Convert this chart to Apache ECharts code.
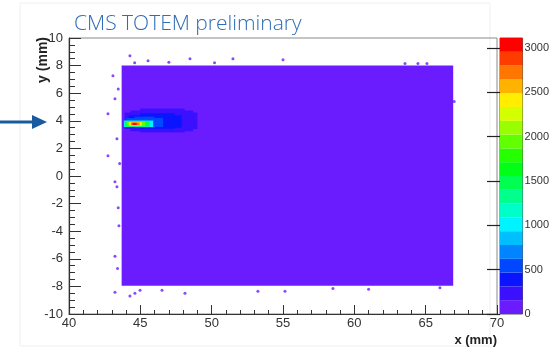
<!DOCTYPE html>
<html><head><meta charset="utf-8">
<script src="https://cdn.jsdelivr.net/npm/echarts@6/dist/echarts.min.js"></script>
<style>html,body{margin:0;padding:0;background:#fff}#c{width:552px;height:349px}</style>
</head><body><div id="c"></div>
<script>
const titleText = 'CMS TOTEM preliminary';
const xLabel = 'x (mm)';
const yLabel = 'y (mm)';
const xRange = [40, 70];
const yRange = [-10, 10];
const zMax = 3112;
const colorBandEdges = [0,156,311,467,622,778,934,1089,1245,1400,1556,1712,1867,2023,2178,2334,2490,2645,2801,2956,3112];
const palette = ['#6a1cff','#3a10ff','#0a14ff','#0048ff','#0084ff','#00bfff','#00f4ff','#00ffc8','#00ff8c','#00ff51',
                 '#00ff15','#26ff00','#62ff00','#99ff00','#d4ff00','#ffee00','#ffb300','#ff7700','#ff3c00','#ff0000'];
const colorbarTicks = [0,500,1000,1500,2000,2500,3000];
// regions of the 2D histogram: [x0, x1, y0, y1, counts]
const acceptanceRegion = [[43.69, 66.93, -7.95, 8.0, 60]];
const beamHalo = [
  [43.9, 49.0, 3.4, 4.6, 200],
  [44.3, 48.7, 3.25, 4.75, 200],
  [45.0, 48.1, 3.15, 4.9, 200],
  [44.2, 47.9, 3.5, 4.4, 380],
  [45.0, 47.4, 3.42, 4.55, 380],
  [44.0, 46.6, 3.55, 4.2, 520],
  [44.6, 46.0, 3.5, 4.3, 520]
];
const beamCore = [
  [43.85, 45.9, 3.55, 4.02, 1000],
  [43.9, 45.65, 3.58, 3.99, 1500],
  [44.05, 45.35, 3.62, 3.95, 1950],
  [44.2, 45.1, 3.65, 3.91, 2400],
  [44.35, 44.95, 3.68, 3.88, 2800],
  [44.45, 44.75, 3.7, 3.85, 3050]
];
const edgeHitsX = [42.73,42.73,43.22,43.36,43.08,43.22,43.36,43.22,43.22,44.27,44.62,44.98,46.52,48.13,53.24,55.14,44.27,45.54,48.48,51.49,55.0,67.0,63.55,64.46,65.09,43.45,43.5,43.4,43.55,43.45,44.6,47.0,50.2,58.5,61.0,66.0];
const edgeHitsY = [4.51,1.47,5.60,2.70,7.26,-0.41,-0.78,-5.82,-8.43,-8.70,-8.49,-8.27,-8.27,-8.49,-8.35,-8.35,8.72,8.36,8.50,8.50,8.43,5.4,8.15,8.15,8.15,-2.3,-3.6,-6.7,0.9,6.3,8.2,8.25,8.2,-8.15,-8.2,-8.1];

const histCells = acceptanceRegion.concat(beamHalo, beamCore);
const colorbarCells = colorBandEdges.slice(0, -1).map((lo, i) => [0, 1, lo, colorBandEdges[i + 1], (lo + colorBandEdges[i + 1]) / 2]);
const pieces = palette.map((c, i) => ({ gte: colorBandEdges[i], lt: colorBandEdges[i + 1], color: c }));
const edgeHits = edgeHitsX.map((x, i) => [x, edgeHitsY[i]]);

function rectItem(params, api) {
  const a = api.coord([api.value(0), api.value(3)]);
  const b = api.coord([api.value(1), api.value(2)]);
  return { type: 'rect', shape: { x: a[0], y: a[1], width: b[0] - a[0], height: b[1] - a[1] },
           style: { fill: api.visual('color') } };
}

const font = 'Liberation Sans, Arial, sans-serif';
const chart = echarts.init(document.getElementById('c'));
chart.setOption({
  backgroundColor: '#fff',
  animation: false,
  title: { text: titleText, left: 74, top: 14, padding: 0,
           textStyle: { fontFamily: 'Open Sans', fontWeight: 300, fontSize: 21, color: '#2f6db5' } },
  grid: [
    { left: 69, right: 55, top: 38, bottom: 35, show: true, borderColor: '#8a8a8a', borderWidth: 1 },
    { left: 500, width: 25, top: 38, bottom: 35, show: true, borderColor: '#555', borderWidth: 1 }
  ],
  xAxis: [
    { gridIndex: 0, type: 'value', min: xRange[0], max: xRange[1], interval: 5,
      axisLine: { onZero: false, lineStyle: { color: '#333', width: 1.2 } },
      axisTick: { inside: true, length: 9, lineStyle: { color: '#333' } },
      minorTick: { show: true, splitNumber: 5, length: 4, lineStyle: { color: '#333' } },
      splitLine: { show: false },
      axisLabel: { margin: 3, fontSize: 13, color: '#333', fontFamily: font } },
    { gridIndex: 1, type: 'value', min: 0, max: 1, show: false }
  ],
  yAxis: [
    { gridIndex: 0, type: 'value', min: yRange[0], max: yRange[1], interval: 2,
      axisLine: { onZero: false, lineStyle: { color: '#333', width: 1.2 } },
      axisTick: { inside: true, length: 12, lineStyle: { color: '#333' } },
      minorTick: { show: true, splitNumber: 4, length: 6, lineStyle: { color: '#333' } },
      splitLine: { show: false },
      axisLabel: { margin: 6, fontSize: 13, color: '#333', fontFamily: font, showMinLabel: true, showMaxLabel: true } },
    { gridIndex: 1, type: 'value', min: 0, max: zMax, position: 'right',
      axisLine: { show: false },
      axisTick: { inside: true, length: 13, customValues: colorbarTicks, lineStyle: { color: '#222', width: 1.2 } },
      splitLine: { show: false },
      axisLabel: { margin: 2, fontSize: 11, color: '#333', fontFamily: font, customValues: colorbarTicks,
                   formatter: v => String(v) } }
  ],
  visualMap: { type: 'piecewise', show: false, dimension: 4, seriesIndex: [0, 2], pieces: pieces },
  series: [
    { type: 'custom', xAxisIndex: 0, yAxisIndex: 0, renderItem: rectItem, data: histCells, silent: true },
    { type: 'scatter', xAxisIndex: 0, yAxisIndex: 0, data: edgeHits, symbolSize: 3, itemStyle: { color: palette[0] }, silent: true },
    { type: 'custom', xAxisIndex: 1, yAxisIndex: 1, renderItem: rectItem, data: colorbarCells, silent: true }
  ],
  graphic: [
    { type: 'rect', shape: { x: 20, y: 3, width: 470, height: 343 }, style: { fill: null, stroke: '#f0f0f0', lineWidth: 1 }, z: -10 },
    { type: 'line', shape: { x1: 0, y1: 122, x2: 34, y2: 122 }, style: { stroke: '#1a5a9f', lineWidth: 3 } },
    { type: 'polygon', shape: { points: [[32, 115], [47, 122], [32, 129]] }, style: { fill: '#1a5a9f' } },
    { type: 'text', x: 43, y: 37, rotation: Math.PI / 2,
      style: { text: yLabel, align: 'right', verticalAlign: 'middle', font: 'bold 14px ' + font, fill: '#222' } },
    { type: 'text', x: 497, y: 334,
      style: { text: xLabel, align: 'right', verticalAlign: 'top', font: 'bold 13px ' + font, fill: '#222' } }
  ]
});
</script></body></html>
